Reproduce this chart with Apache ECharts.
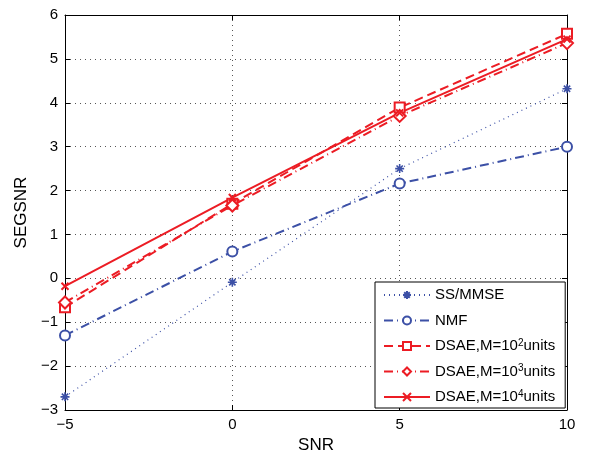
<!DOCTYPE html>
<html>
<head>
<meta charset="utf-8">
<script src="https://cdn.jsdelivr.net/npm/echarts@6/dist/echarts.min.js"></script>
<style>
  html, body { margin: 0; padding: 0; background: #fff; }
  #chart { width: 589px; height: 451px; }
</style>
</head>
<body>
<div id="chart"></div>
<script>
// SNR test points (dB)
const snrLevels = [-5, 0, 5, 10];

// SEGSNR results per method
const ssMmse   = [-2.70, -0.09, 2.50, 4.32];
const nmf      = [-1.30, 0.61, 2.16, 3.00];
const dsae1e2  = [-0.66, 1.70, 3.89, 5.57];
const dsae1e3  = [-0.55, 1.66, 3.70, 5.36];
const dsae1e4  = [-0.18, 1.84, 3.77, 5.45];

const seriesNames = ['SS/MMSE', 'NMF', 'DSAE,M=10^2units', 'DSAE,M=10^3units', 'DSAE,M=10^4units'];

const BLUE = '#3C50A6';
const RED = '#EC1C24';
const FONT = 'Liberation Sans, Arial, sans-serif';

const asteriskPath = 'path://M0,5L10,5M5,0L5,10M1.5,1.5L8.5,8.5M8.5,1.5L1.5,8.5';
const crossPath = 'path://M0,0L10,10M10,0L0,10';

function pairs(ys) { return snrLevels.map((x, i) => [x, ys[i]]); }
function minusSign(v) { return String(v).replace('-', '\u2212'); }

const chart = echarts.init(document.getElementById('chart'), null, { renderer: 'canvas' });

const frameAxisCommon = {
  axisLine: { show: true, onZero: false, lineStyle: { color: '#000', width: 1 } },
  axisTick: { show: true, inside: true, length: 5, lineStyle: { color: '#000' } },
  axisLabel: { show: false },
  splitLine: { show: false }
};

const gridDots = { show: true, lineStyle: { color: '#555', type: [1, 4], width: 1 } };

chart.setOption({
  animation: false,
  backgroundColor: '#fff',
  grid: { left: 65, right: 22, top: 15, bottom: 41, outerBoundsMode: 'none', containLabel: false },
  xAxis: [
    {
      type: 'value', min: -5, max: 10, interval: 5,
      name: 'SNR', nameLocation: 'middle', nameGap: 22,
      nameTextStyle: { fontFamily: FONT, fontSize: 17, color: '#000' },
      axisLine: { show: true, onZero: false, lineStyle: { color: '#000', width: 1 } },
      axisTick: { show: true, inside: true, length: 5, lineStyle: { color: '#000' } },
      axisLabel: { fontFamily: FONT, fontSize: 15, color: '#000', margin: 7, formatter: minusSign },
      splitLine: gridDots
    },
    Object.assign({ type: 'value', min: -5, max: 10, interval: 5, position: 'top' }, frameAxisCommon)
  ],
  yAxis: [
    {
      type: 'value', min: -3, max: 6, interval: 1,
      name: 'SEGSNR', nameLocation: 'middle', nameGap: 30,
      nameTextStyle: { fontFamily: FONT, fontSize: 17, color: '#000' },
      axisLine: { show: true, onZero: false, lineStyle: { color: '#000', width: 1 } },
      axisTick: { show: true, inside: true, length: 5, lineStyle: { color: '#000' } },
      axisLabel: { fontFamily: FONT, fontSize: 15, color: '#000', margin: 7, formatter: minusSign },
      splitLine: gridDots
    },
    Object.assign({ type: 'value', min: -3, max: 6, interval: 1, position: 'right' }, frameAxisCommon)
  ],
  legend: {
    orient: 'vertical',
    left: 375, top: 282,
    padding: [5, 10, 3, 8],
    itemWidth: 46, itemHeight: 10, itemGap: 9.5,
    backgroundColor: '#fff',
    borderColor: '#000', borderWidth: 1,
    data: seriesNames,
    formatter: function (name) {
      return name.replace(/\^(\d)/, '{sup|$1}');
    },
    textStyle: {
      fontFamily: FONT, fontSize: 15, color: '#000', lineHeight: 16,
      rich: {
        sup: { fontFamily: FONT, fontSize: 10, color: '#000', verticalAlign: 'top', padding: [0, 0, 6, 0] }
      }
    }
  },
  series: [
    {
      name: seriesNames[0], type: 'line', data: pairs(ssMmse),
      lineStyle: { color: BLUE, width: 1.2, type: [1, 4] },
      symbol: asteriskPath, symbolSize: 9,
      itemStyle: { color: BLUE, borderColor: BLUE, borderWidth: 1.6 }
    },
    {
      name: seriesNames[1], type: 'line', data: pairs(nmf),
      lineStyle: { color: BLUE, width: 2, type: [9, 4, 1, 4] },
      symbol: 'emptyCircle', symbolSize: 10,
      itemStyle: { color: BLUE, borderColor: BLUE, borderWidth: 2 }
    },
    {
      name: seriesNames[2], type: 'line', data: pairs(dsae1e2),
      lineStyle: { color: RED, width: 2, type: [9, 5] },
      symbol: 'emptyRect', symbolSize: 10,
      itemStyle: { color: RED, borderColor: RED, borderWidth: 2 }
    },
    {
      name: seriesNames[3], type: 'line', data: pairs(dsae1e3),
      lineStyle: { color: RED, width: 2, type: [9, 4, 1, 4] },
      symbol: 'emptyDiamond', symbolSize: 12,
      itemStyle: { color: RED, borderColor: RED, borderWidth: 2 }
    },
    {
      name: seriesNames[4], type: 'line', data: pairs(dsae1e4),
      lineStyle: { color: RED, width: 2, type: 'solid' },
      symbol: crossPath, symbolSize: 7,
      itemStyle: { color: RED, borderColor: RED, borderWidth: 2 }
    }
  ]
});
</script>
</body>
</html>
